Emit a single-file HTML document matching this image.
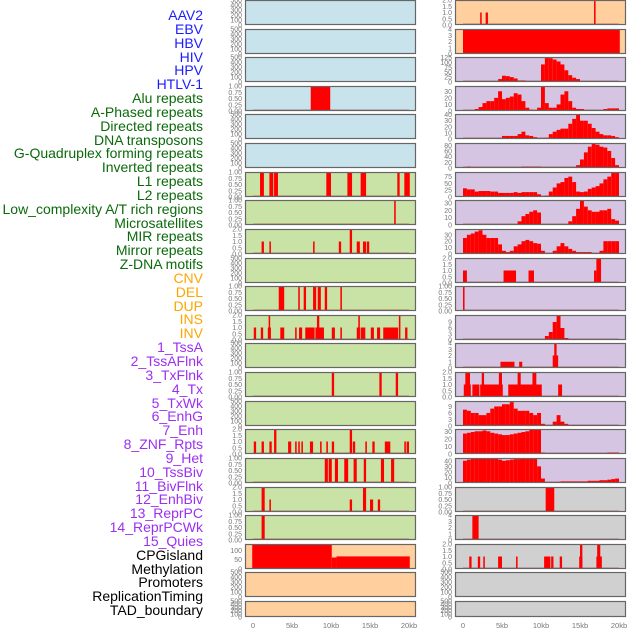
<!DOCTYPE html>
<html><head><meta charset="utf-8"><style>
body{margin:0;background:#fff;}
#wrap{position:relative;width:630px;height:630px;overflow:hidden;font-family:"Liberation Sans",sans-serif;}
.lab{position:absolute;right:427px;font-size:14px;line-height:14px;white-space:nowrap;}
</style></head><body>
<div id="wrap">
<svg id="chart" width="630" height="630" style="position:absolute;left:0;top:0"></svg>
</div>
<script>
const trackLabels = ["AAV2","EBV","HBV","HIV","HPV","HTLV-1","Alu repeats","A-Phased repeats","Directed repeats","DNA transposons","G-Quadruplex forming repeats","Inverted repeats","L1 repeats","L2 repeats","Low_complexity A/T rich regions","Microsatellites","MIR repeats","Mirror repeats","Z-DNA motifs","CNV","DEL","DUP","INS","INV","1_TssA","2_TssAFlnk","3_TxFlnk","4_Tx","5_TxWk","6_EnhG","7_Enh","8_ZNF_Rpts","9_Het","10_TssBiv","11_BivFlnk","12_EnhBiv","13_ReprPC","14_ReprPCWk","15_Quies","CPGisland","Methylation","Promoters","ReplicationTiming","TAD_boundary"];
const labelGroups = [6,13,5,15,5];
const groupColors = ["#1c1cff","#0a6a0a","#ffa500","#9b30f0","#000000"];
const xTickLabels = ["0","5kb","10kb","15kb","20kb"];
const xTickValues = [0,5,10,15,20];

const T5=[0,100,200,300,400,500], TB=[0,0.25,0.5,0.75,1], TC=[0,0.5,1,1.5,2];
const leftTicks = [T5,T5,T5,TB,T5,T5,TB,TB,TC,T5,TB,TC,T5,TB,T5,TC,TB,TC,TB,[0,50,100],T5,T5];
const leftMax = [500,500,500,1,500,500,1,1,2,500,1,2,500,1,500,2,1,2,1,135,500,500];
const leftBars = [
 [],[],[],
 [[7.4,9.9,1]],
 [],[],
 [[0.9,1.4,1],[2.1,2.6,1],[2.7,3.2,1],[9.4,10.0,1],[12.1,12.7,1],[13.8,14.5,1],[18.5,18.8,1],[19.4,20.1,1]],
 [[18.1,18.3,1]],
 [[1.1,1.4,1],[2.1,2.3,1],[7.7,7.9,1],[11.0,11.3,1],[12.4,12.7,2],[13.3,13.7,1],[14.1,14.5,1],[14.6,14.9,1]],
 [],
 [[3.3,4.0,1],[5.8,6.0,1],[6.5,6.8,1],[7.7,8.1,1],[8.3,8.7,1],[9.2,9.5,1],[11.2,11.4,1]],
 [[0.1,0.4,1],[1.0,1.3,1],[1.9,2.3,1],[2.0,2.2,2],[3.5,4.0,1],[5.4,5.6,1],[5.9,6.3,1],[6.7,7.9,1],[8.0,9.1,1],[8.2,8.5,2],[10.1,10.5,1],[11.2,11.4,1],[13.3,13.7,1],[13.5,13.7,2],[13.8,14.4,1],[15.1,15.5,1],[15.9,16.3,1],[16.7,17.9,1],[17.8,18.6,1],[18.7,18.9,2],[19.5,19.8,1]],
 [],
 [[10.1,10.4,1],[16.2,16.5,1],[18.3,18.6,1]],
 [],
 [[0.1,0.4,1],[1.1,1.4,1],[2.1,2.4,1],[2.7,3.0,2],[4.5,4.9,1],[5.4,5.6,1],[5.8,6.0,1],[6.2,6.4,1],[7.3,7.7,1],[8.6,8.8,1],[9.4,9.6,1],[10.1,10.4,1],[12.4,12.7,2],[12.8,13.1,1],[14.4,14.6,1],[15.3,15.6,1],[16.9,17.6,1],[19.4,19.6,1],[19.7,20.0,1]],
 [[9.2,9.6,1],[9.7,10.1,1],[10.5,10.9,1],[11.7,12.2,1],[12.9,13.3,1],[14.2,14.5,1],[16.4,16.8,1],[17.7,18.1,1]],
 [[1.1,1.5,2],[2.1,2.3,1],[12.4,12.7,1],[14.1,14.5,2],[15.0,15.4,1],[16.0,16.3,1]],
 [[1.1,1.5,1]],
 [[-0.1,10.1,132],[10.1,10.7,62],[10.7,20.1,68]],
 [],[]
];

const rightTicks = [TC,[0,1,2,3,4],[0,25,50,75,100,125],[0,10,20,30],[0,10,20,30,40],[0,20,40,60,80],[0,25,50,75],[0,10,20,30],[0,10,20,30],TC,TB,[0,3,6,9],[0,1,2,3,4],TC,[0,3,6,9],[0,10,20,30],[0,10,20,30,40],TB,[0,1,2,3,4],TC,T5,T5];
const rightMax = [2,4,128,38,41,88,92,34,39,2,1,12.5,4,2,11.5,33,45,1,4,2,500,500];
const rightBars = [
 [[2.2,2.4,1],[2.9,3.2,1],[16.8,17.0,2]],
 [[0,20.1,4]],
 [],[],[],[],[],[],[],
 [[0.0,0.5,1],[5.2,6.8,1],[8.4,9.1,1],[16.8,17.1,1],[17.1,17.7,2]],
 [[0,0.2,1]],
 [],
 [[4.8,6.6,1],[7.2,7.6,1],[11.5,12.2,2],[11.7,12.0,4]],
 [[0.1,1.0,1],[0.3,0.9,2],[1.2,2.1,1],[2.2,5.1,1],[2.4,2.7,2],[4.6,5.0,2],[5.8,10.1,1],[7.0,7.4,2],[8.9,9.4,2],[12.2,12.7,1]],
 [],[],[],
 [[10.6,11.7,1]],
 [[1.2,2.0,4]],
 [[0.8,1.1,1],[1.9,2.2,1],[2.6,2.8,1],[4.5,5.0,1],[6.8,7.0,1],[10.4,11.2,1],[11.3,11.6,1],[12.4,12.7,1],[14.9,15.3,1],[15.0,15.3,2],[17.1,17.8,1],[17.2,17.6,2]],
 [],[]
];
// curve values at 0.5kb bins (0..19.5kb)
const curveHIV = [0,0,0,0,3,3,0,2,5,15,32,30,25,18,8,8,3,3,0,0,90,125,122,115,105,90,60,35,22,15,5,0,0,0,0,0,0,0,0,0];
const curveAlu = [0,0,0,3,6,12,15,15,20,30,18,20,22,27,25,15,5,2,0,5,37,12,5,5,10,25,30,15,5,3,3,0,0,0,0,0,3,4,4,4];
const curveAPhased = [0,0,0,0,0,0,0,0,0,0,5,5,5,5,8,12,6,5,3,0,0,2,8,12,15,17,17,25,33,40,30,30,25,18,12,8,6,6,5,3];
const curveDirected = [0,5,0,0,0,0,0,0,0,0,0,0,0,0,0,5,5,5,5,5,0,0,0,0,0,0,0,0,0,10,30,55,75,85,82,75,72,60,35,10];
const curveDNA = [32,28,28,20,22,22,22,20,20,15,15,15,15,18,15,18,18,18,18,10,0,5,20,35,50,55,70,75,55,20,18,20,30,35,40,50,65,75,90,90];
const curveGQuad = [0,0,0,0,0,0,0,0,0,0,0,0,0,0,5,12,15,18,20,17,0,0,0,0,0,0,0,5,12,22,33,25,20,18,18,20,20,22,8,6];
const curveInverted = [25,30,32,35,37,30,25,25,25,15,5,3,5,12,15,20,22,20,17,16,5,0,0,5,12,17,12,8,5,3,3,3,3,0,0,5,20,20,20,20];
const curveLowComplexity = [0,0,0,0,0,0,0,0,0,0,0,0,0,0,0,0,0,0,0,0,0,2,4,9,12,6,1,0,0,0,0,0,0,0,0,0,0,0,0,0];
const curveMirror = [7.5,7,6,6,5,5,6,8,9,9,10,10,11,8,7,7,7,6,5,6,1,0,0,2,5,2,1,0,0,0,0,0,0,0,0,0,0,0,0,0];
const curveZDNA = [27,28,29,30,30,31,30,28,27,26,25,25,26,27,28,29,30,32,32,32,2,0,0,0,0,1,1,1,1,1,1,1,1,1,1,1,1,2,2,2];
const curveRow17 = [40,42,44,45,45,45,45,45,44,42,40,41,42,43,43,44,45,45,45,30,8,0,0,0,2,3,3,3,3,3,3,3,4,4,4,5,5,6,7,8];
const rightCurves = {2:curveHIV,3:curveAlu,4:curveAPhased,5:curveDirected,6:curveDNA,7:curveGQuad,8:curveInverted,11:curveLowComplexity,14:curveMirror,15:curveZDNA,16:curveRow17};

const leftBg = ["#c8e3eb","#c8e3eb","#c8e3eb","#c8e3eb","#c8e3eb","#c8e3eb"].concat(Array(13).fill("#c9e2a5")).concat(["#ffd09e","#ffd09e","#ffd09e"]);
const rightBg = ["#ffd09e","#ffd09e"].concat(Array(15).fill("#d5c5e2")).concat(Array(5).fill("#d0d0d0"));
const rowTops = [0,29,57,86,114,143,172,200,229,258,286,315,343,372,401,429,458,487,515,544,572,601];
const rowH = [25,25,25,25,25,25,25,25,25,25,25,25,25,25,25,25,25,25,25,25,25,16];
const NS="http://www.w3.org/2000/svg";
const svg=document.getElementById('chart');
function mk(tag,attrs,parent){const e=document.createElementNS(NS,tag);for(const k in attrs)e.setAttribute(k,attrs[k]);(parent||svg).appendChild(e);return e;}
function fmt(ticks,v){const m=ticks[ticks.length-1];if(m===1)return v.toFixed(2);if(m===2)return v.toFixed(1);return String(v);}

function drawPanel(side,i,ticks,ymax,bars){
  const px = side==='left'?245:455, pw=171, x0 = px+8;
  const top=rowTops[i], h=rowH[i];
  const xs = kb => x0 + kb*7.8;
  const ys = v => top+h - Math.min(v,ymax)/ymax*h;
  const g=mk('g',{});
  
  
  const bg=mk('rect',{x:px,y:top,width:pw,height:h,fill:(side==='left'?leftBg:rightBg)[i]},g);
  
  
  if(bars.length){
    const base=mk('line',{x1:xs(0),x2:xs(20),y1:top+h-0.7,y2:top+h-0.7,stroke:'rgba(160,0,0,0.45)','stroke-width':1.5},g);
    
    
  }
  bars.forEach(b=>{
    const x1=xs(b[0]), x2=xs(b[1]);
    const r=mk('rect',{x:x1,y:ys(b[2]),width:Math.max(1.2,x2-x1),height:top+h-ys(b[2]),fill:'#ff0000'},g);
    
    
  });
  mk('rect',{x:px+0.5,y:top+0.5,width:pw-1,height:h-1,fill:'none',stroke:'#666','stroke-width':1.2},g);
  ticks.forEach(t=>{
    const tl=mk('text',{x:px-3,y:ys(t)+2.5,'font-size':7,fill:'#777','text-anchor':'end','font-family':'Liberation Sans, sans-serif'},g);
    tl.textContent=fmt(ticks,t);
    
    
  });
}
for(let i=0;i<22;i++){
  drawPanel('left',i,leftTicks[i],leftMax[i],leftBars[i]);
  let bars=rightBars[i].slice();
  if(rightCurves[i]){rightCurves[i].forEach((v,k)=>{if(v>0)bars.push([k*0.5,k*0.5+0.5,v]);});}
  drawPanel('right',i,rightTicks[i],rightMax[i],bars);
}
['left','right'].forEach(side=>{
  const x0 = side==='left'?253:463;
  xTickValues.forEach((v,k)=>{
    const t=mk('text',{x:x0+v*7.8,y:628,'font-size':7.5,fill:'#777','text-anchor':'middle','font-family':'Liberation Sans, sans-serif'});
    t.textContent=xTickLabels[k];
    
    
  });
});
const wrap=document.getElementById('wrap');
let gi=0,cnt=0;
trackLabels.forEach((s,i)=>{
  while(cnt>=labelGroups[gi]){cnt=0;gi++;}
  cnt++;
  const d=document.createElement('div');
  d.className='lab';
  d.style.top=(8+i*13.84)+'px';
  d.style.color=groupColors[gi];
  d.textContent=s;
  
  
  wrap.appendChild(d);
});
</script>
</body></html>
